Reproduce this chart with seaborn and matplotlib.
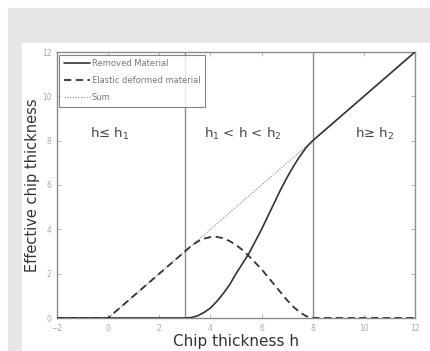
import matplotlib
matplotlib.use("Agg")
import matplotlib.pyplot as plt
import seaborn as sns
import pandas as pd
from matplotlib.patches import Rectangle

# curves
removed_h = [-2, 0, 3, 3.25, 3.5, 3.75, 4, 4.25, 4.5, 4.75, 5, 5.25, 5.5, 5.75, 6,
             6.25, 6.5, 6.75, 7, 7.25, 7.5, 7.75, 8, 10, 12]
removed_v = [0, 0, 0, 0.02, 0.1, 0.25, 0.45, 0.75, 1.1, 1.5, 2.0, 2.45, 2.9, 3.45, 4.0,
             4.6, 5.2, 5.8, 6.35, 6.85, 7.3, 7.7, 8, 10, 12]

elastic_h = [-2, 0, 3, 3.25, 3.5, 3.75, 4, 4.2, 4.5, 4.75, 5, 5.25, 5.5, 5.75, 6,
             6.25, 6.5, 6.75, 7, 7.25, 7.5, 7.75, 8, 10, 12]
elastic_v = [0, 0, 3, 3.25, 3.45, 3.58, 3.65, 3.67, 3.6, 3.47, 3.3, 3.07, 2.8, 2.5, 2.2,
             1.85, 1.5, 1.15, 0.8, 0.5, 0.25, 0.08, 0, 0, 0]

sum_h = [-2, 0, 12]
sum_v = [0, 0, 12]

bounds = [3, 8]
regions = ["h\u2264 h$_1$", "h$_1$ < h < h$_2$", "h\u2265 h$_2$"]
region_x = [0.07, 5.27, 10.4]

sns.set_style("ticks")
plt.rcParams['font.family'] = ['DejaVu Sans']

fig = plt.figure(figsize=(4.3, 3.51), dpi=100)
fig.patch.set_facecolor("white")
# grey page background behind the plot
fig.patches.append(Rectangle((8/430, 0), 1, 1 - 8/351, transform=fig.transFigure,
                             color="#e6e6e6", zorder=-2))
fig.patches.append(Rectangle((22/430, 0), 1, 1 - 43/351, transform=fig.transFigure,
                             color="white", zorder=-1))

ax = fig.add_axes([57/430, 1 - 318/351, (415-57)/430, (318-52)/351])

df_r = pd.DataFrame({"h": removed_h, "v": removed_v})
df_e = pd.DataFrame({"h": elastic_h, "v": elastic_v})
df_s = pd.DataFrame({"h": sum_h, "v": sum_v})

sns.lineplot(data=df_s, x="h", y="v", ax=ax, color="#9a9a9a", lw=0.9,
             linestyle=(0, (1, 1.2)), label="Sum", zorder=2)
sns.lineplot(data=df_r, x="h", y="v", ax=ax, color="#333333", lw=1.2,
             label="Removed Material", zorder=3)
sns.lineplot(data=df_e, x="h", y="v", ax=ax, color="#333333", lw=1.3,
             linestyle=(0, (4, 2.5)), label="Elastic deformed material", zorder=3)

for b in bounds:
    ax.axvline(b, color="#8a8a8a", lw=1.0, zorder=1)

for t, x in zip(regions, region_x):
    ax.text(x, 8.3, t, ha="center", va="center", fontsize=9.5, color="#444444")

ax.set_xlim(-2, 12)
ax.set_ylim(0, 12)
ax.set_xticks(range(-2, 13, 2))
ax.set_yticks(range(0, 13, 2))
ax.tick_params(direction="in", length=3, width=0.6, colors="#aaaaaa",
               labelsize=5.5, top=True, right=True, pad=4)
for s in ax.spines.values():
    s.set_color("#8a8a8a")
    s.set_linewidth(1.0)

ax.set_xlabel("Chip thickness h", fontsize=11, color="#333333", labelpad=1)
ax.set_ylabel("Effective chip thickness", fontsize=10.5, color="#333333", labelpad=1)

handles, labels = ax.get_legend_handles_labels()
order = [1, 2, 0]
leg = ax.legend([handles[i] for i in order], [labels[i] for i in order],
                loc="upper left", fontsize=6, frameon=True, fancybox=False,
                edgecolor="#666666", handlelength=3.2, borderaxespad=0.3,
                labelspacing=1.0, handletextpad=0.2, borderpad=0.5)
leg.get_frame().set_linewidth(0.8)
for t in leg.get_texts():
    t.set_color("#777777")

fig.savefig("out.png", dpi=100)
